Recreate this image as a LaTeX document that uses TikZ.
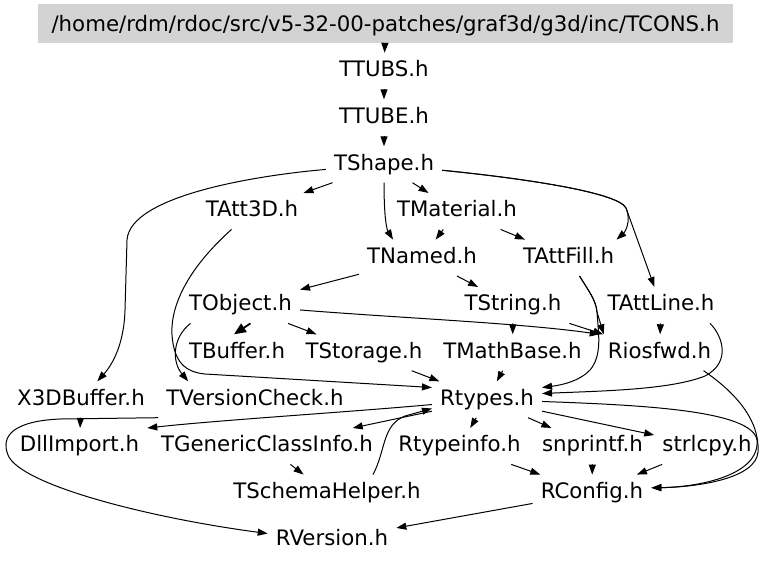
\documentclass[tikz,border=0pt]{standalone}
\usepackage{fontspec}
\setmainfont{DejaVu Sans}
\usetikzlibrary{arrows.meta}
\definecolor{hdrgray}{RGB}{211,211,211}
\begin{document}
\begin{tikzpicture}[x=1pt,y=-1pt,
  file/.style={font=\fontsize{21.3}{25}\selectfont, text height=16pt, text depth=5pt,
               inner xsep=8pt, inner ysep=7.5pt, anchor=base},
  hdr/.style={font=\fontsize{21.3}{25}\selectfont, fill=hdrgray, minimum width=695pt,
              minimum height=39pt, inner sep=0pt, text height=16pt, text depth=0pt},
  e/.style={draw=black, line width=1pt, -{Triangle[length=10pt,width=7pt]}},
  eb/.style={draw=black, line width=1.8pt, -{Triangle[length=12pt,width=10pt]}}
]
\useasboundingbox (0,0) rectangle (768,562);

\node[hdr] (tcons) at (385.5,23.5) {/home/rdm/rdoc/src/v5-32-00-patches/graf3d/g3d/inc/TCONS.h};
\node[file] (ttubs) at (384,76.5) {TTUBS.h};
\node[file] (ttube) at (384,123) {TTUBE.h};
\node[file] (tshape) at (384,170) {TShape.h};
\node[file] (tatt3d) at (252,216.7) {TAtt3D.h};
\node[file] (tmaterial) at (457,216.7) {TMaterial.h};
\node[file] (tnamed) at (422,263.3) {TNamed.h};
\node[file] (tattfill) at (568.5,263.3) {TAttFill.h};
\node[file] (tobject) at (240.5,310.7) {TObject.h};
\node[file] (tstring) at (513,310.7) {TString.h};
\node[file] (tattline) at (661,310.7) {TAttLine.h};
\node[file] (tbuffer) at (237,358) {TBuffer.h};
\node[file] (tstorage) at (364,358) {TStorage.h};
\node[file] (tmathbase) at (512.5,358) {TMathBase.h};
\node[file] (riosfwd) at (659.5,358) {Riosfwd.h};
\node[file] (x3dbuffer) at (81,405) {X3DBuffer.h};
\node[file] (tversioncheck) at (255,405) {TVersionCheck.h};
\node[file] (rtypes) at (487,405) {Rtypes.h};
\node[file] (dllimport) at (79.5,451.7) {DllImport.h};
\node[file] (tgenericclassinfo) at (267,451.7) {TGenericClassInfo.h};
\node[file] (rtypeinfo) at (459.5,451.7) {Rtypeinfo.h};
\node[file] (snprintf) at (592.5,451.7) {snprintf.h};
\node[file] (strlcpy) at (707,451.7) {strlcpy.h};
\node[file] (tschemahelper) at (327,498.3) {TSchemaHelper.h};
\node[file] (rconfig) at (592,498.3) {RConfig.h};
\node[file] (rversion) at (332,545) {RVersion.h};

\draw[e] (tcons) -- (ttubs);
\draw[e] (ttubs) -- (ttube);
\draw[e] (ttube) -- (tshape);
\draw[e] (tshape) -- (tatt3d);
\draw[e] (tshape) -- (tmaterial);
\draw[e] (tshape) .. controls (384,212) and (386,228) .. ([xshift=-29pt]tnamed.north);
\draw[e] (tshape) .. controls (260,175) and (130,195) .. (127,240) -- (125,310)
  .. controls (124,345) and (112,365) .. (x3dbuffer);
\draw[e] (tshape) .. controls (520,178) and (618,192) .. (626,208)
  .. controls (632,222) and (624,233) .. ([xshift=48pt]tattfill.north);
\draw[e] (tshape) .. controls (520,178) and (618,192) .. (626,208) -- (tattline);
\draw[e] (tmaterial) -- (tnamed);
\draw[e] (tmaterial) -- (tattfill);
\draw[e] (tnamed) -- (tobject);
\draw[e] (tnamed) -- (tstring);
\draw[eb] ([xshift=10pt]tobject.south) -- ([xshift=-3pt]tbuffer.north);
\draw[e] (tobject) -- (tstorage);
\draw[e] (tobject) .. controls (400,318) and (520,323) .. (riosfwd.north west);
\draw[e] ([xshift=-50pt]tobject.south) .. controls (172,338) and (172,362) .. ([xshift=30pt]tversioncheck.north west);
\draw[e] (tstring) -- (tmathbase);
\draw[e] (tstring) -- (riosfwd);
\draw[e] (tattline) -- (riosfwd);
\draw[e] (tattfill) .. controls (588,290) and (596,300) .. (597,312) -- ([xshift=4pt]riosfwd.north west);
\draw[e] (tattfill) .. controls (588,290) and (596,300) .. (597,312)
  .. controls (598,330) and (603,355) .. (590,370)
  .. controls (580,381) and (562,385) .. ([yshift=12pt]rtypes.east);
\draw[e] ([xshift=49pt]tattline.south) .. controls (722,335) and (732,362) .. (705,376)
  .. controls (670,390) and (600,391) .. ([yshift=6pt]rtypes.east);
\draw[e] (tatt3d) .. controls (195,262) and (170,300) .. (172,335)
  .. controls (174,362) and (185,372) .. (205,374) -- ([yshift=12pt]rtypes.west);
\draw[e] (tstorage) -- (rtypes);
\draw[e] (tmathbase) -- (rtypes);
\draw[e] ([xshift=46pt]tschemahelper.north) .. controls (386,450) and (382,425) .. (405,416)
  -- ([yshift=-9pt]rtypes.west);
\draw[e] (rtypes) -- (tgenericclassinfo);
\draw[e] (rtypes) .. controls (350,412) and (220,420) .. (dllimport.north east);
\draw[e] (rtypes) -- (rtypeinfo);
\draw[e] (rtypes) -- (snprintf);
\draw[e] (rtypes) -- (strlcpy);
\draw[e] (rtypes) .. controls (640,405) and (752,410) .. (757,440)
  .. controls (760,475) and (700,487) .. ([yshift=5pt]rconfig.east);
\draw[e] ([xshift=44pt]riosfwd.south) .. controls (735,392) and (760,420) .. (758,452)
  .. controls (756,478) and (700,487) .. ([yshift=5pt]rconfig.east);
\draw[e] (rtypeinfo) -- (rconfig);
\draw[e] (snprintf) -- (rconfig);
\draw[e] (strlcpy) -- (rconfig);
\draw[e] (tgenericclassinfo) -- (tschemahelper);
\draw[e] (x3dbuffer) -- (dllimport);
\draw[e] (tversioncheck.south west) -- (60,419) .. controls (15,421) and (0,435) .. (8,455)
  .. controls (20,485) and (150,518) .. ([yshift=6pt]rversion.west);
\draw[e] (rconfig) -- (rversion);
\end{tikzpicture}
\end{document}
